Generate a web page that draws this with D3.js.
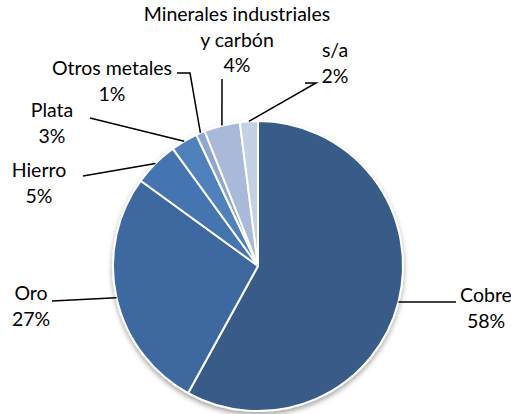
<!DOCTYPE html>
<html>
<head>
<meta charset="utf-8">
<script src="https://cdn.jsdelivr.net/npm/d3@7"></script>
<style>
  body { margin: 0; background: #fff; }
  text { font-family: Lato, "Open Sans", sans-serif; font-size: 19.5px; fill: #000; }
</style>
</head>
<body>
<div id="chart"></div>
<script>
// categories and shares (%), clockwise from 12 o'clock
var categories = ["Cobre", "Oro", "Hierro", "Plata", "Otros metales", "Minerales industriales|y carbón", "s/a"];
var values = [58, 27, 5, 3, 1, 4, 2];
var colors = ["#375b87", "#3e68a0", "#4574b0", "#4f81bd", "#8ea6d0", "#a9b9d9", "#c4d0e5"];

// label placement: text anchor point and leader elbow (relative to svg)
var labelPos = [
  {x: 486, y: 302, ex: 456, ey: 302},
  {x: 31,  y: 300, ex: 52,  ey: 301},
  {x: 39,  y: 177, ex: 83,  ey: 176},
  {x: 52,  y: 117, ex: 90,  ey: 118},
  {x: 112, y: 75,  ex: 190, ey: 73, ex0: 177},
  {x: 237, y: 21,  ex: 222, ey: 79},
  {x: 335, y: 57,  ex: 316, ey: 83, ex0: 305}
];

var width = 511, height = 414;
var cx = 258, cy = 266, radius = 145;

var svg = d3.select("#chart").append("svg")
    .attr("width", width)
    .attr("height", height);

var defs = svg.append("defs");
var filt = defs.append("filter").attr("id", "shadow")
    .attr("x", "-10%").attr("y", "-10%").attr("width", "120%").attr("height", "125%");
filt.append("feDropShadow")
    .attr("dx", 0).attr("dy", 3)
    .attr("stdDeviation", 2.5)
    .attr("flood-color", "#000")
    .attr("flood-opacity", 0.35);

var pie = d3.pie().sort(null).value(function(d){ return d; });
var arcs = pie(values);
var arc = d3.arc().innerRadius(0).outerRadius(radius);

var g = svg.append("g").attr("transform", "translate(" + cx + "," + cy + ")");

g.append("g").attr("filter", "url(#shadow)")
  .selectAll("path")
  .data(arcs)
  .enter().append("path")
    .attr("d", arc)
    .attr("fill", function(d, i){ return colors[i]; })
    .attr("stroke", "#fff")
    .attr("stroke-width", 2)
    .attr("stroke-linejoin", "round");

// leader lines from slice edge midpoint
arcs.forEach(function(d, i){
  var a = (d.startAngle + d.endAngle) / 2;
  var px = cx + radius * Math.sin(a), py = cy - radius * Math.cos(a);
  var lp = labelPos[i];
  var pts = [[px, py], [lp.ex, lp.ey]];
  if (lp.ex0 !== undefined) pts.push([lp.ex0, lp.ey]);
  svg.append("path")
    .attr("d", d3.line()(pts))
    .attr("fill", "none")
    .attr("stroke", "#000")
    .attr("stroke-width", 1.5);
});

// labels
categories.forEach(function(c, i){
  var lines = c.split("|").concat([values[i] + "%"]);
  var t = svg.append("text")
    .attr("x", labelPos[i].x)
    .attr("y", labelPos[i].y)
    .attr("text-anchor", "middle");
  lines.forEach(function(l, j){
    t.append("tspan")
      .attr("x", labelPos[i].x)
      .attr("dy", j === 0 ? 0 : 25.5)
      .text(l);
  });
});
</script>
</body>
</html>
